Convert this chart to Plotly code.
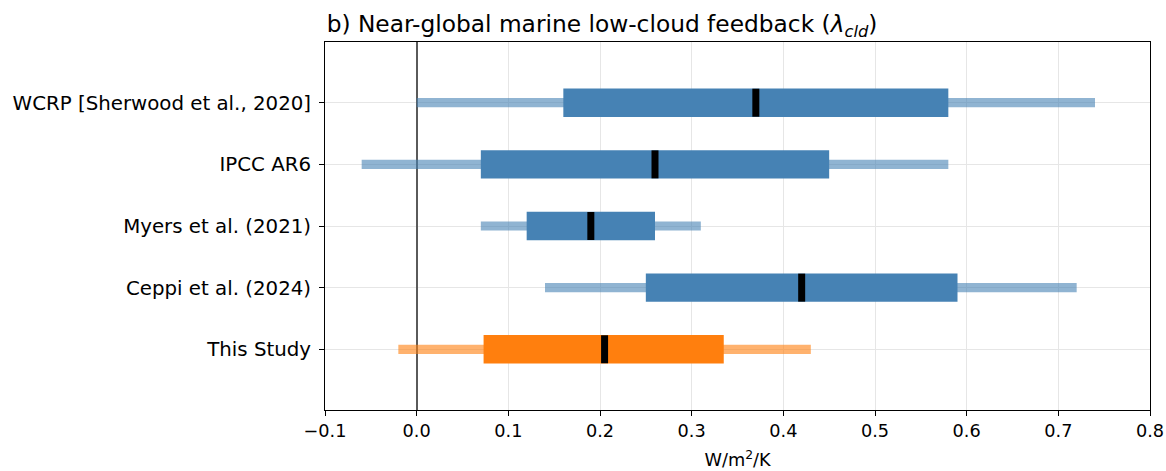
import plotly.graph_objects as go

# Studies, listed bottom to top
studies = ["This Study", "Ceppi et al. (2024)", "Myers et al. (2021)",
           "IPCC AR6", "WCRP [Sherwood et al., 2020]"]

# Feedback estimates (W/m2/K): outer range, inner range, central value
outer_lo = [-0.02, 0.14, 0.07, -0.06, 0.00]
inner_lo = [0.073, 0.25, 0.12, 0.07, 0.16]
central  = [0.205, 0.42, 0.19, 0.26, 0.37]
inner_hi = [0.335, 0.59, 0.26, 0.45, 0.58]
outer_hi = [0.43, 0.72, 0.31, 0.58, 0.74]

box_colors = ["#ff7f0e", "#4682b4", "#4682b4", "#4682b4", "#4682b4"]
range_colors = ["rgba(255,127,14,0.6)", "rgba(70,130,180,0.6)",
                "rgba(70,130,180,0.6)", "rgba(70,130,180,0.6)",
                "rgba(70,130,180,0.6)"]

fig = go.Figure()

# outer (light) range
fig.add_trace(go.Bar(
    y=studies, base=outer_lo,
    x=[h - l for l, h in zip(outer_lo, outer_hi)],
    orientation="h", width=0.15,
    marker=dict(color=range_colors, line=dict(width=0)),
    hoverinfo="skip", showlegend=False,
))

# inner (solid) range
fig.add_trace(go.Bar(
    y=studies, base=inner_lo,
    x=[h - l for l, h in zip(inner_lo, inner_hi)],
    orientation="h", width=0.46,
    marker=dict(color=box_colors, line=dict(width=0)),
    hoverinfo="skip", showlegend=False,
))

# central estimate
fig.add_trace(go.Scatter(
    x=central, y=studies, mode="markers",
    marker=dict(symbol="line-ns", size=20, color="black",
                line=dict(width=7, color="black")),
    hoverinfo="skip", showlegend=False,
))

font_family = "DejaVu Sans"

fig.update_layout(
    width=1166, height=471,
    margin=dict(l=325, r=16, t=42, b=61),
    paper_bgcolor="white", plot_bgcolor="white",
    barmode="overlay",
    font=dict(family=font_family, color="black"),
    title=dict(
        text="b) Near-global marine low-cloud feedback (<i>λ</i><sub><i>cld</i></sub>)",
        font=dict(family=font_family, size=23.3, color="black"),
        xref="paper", x=0.002, xanchor="left",
        yref="container", y=1 - 24 / 471, yanchor="middle",
    ),
)

fig.update_xaxes(
    range=[-0.1, 0.8], dtick=0.1, tickformat=".1f",
    automargin=False,
    showgrid=True, gridcolor="#e6e6e6", gridwidth=1.3,
    zeroline=True, zerolinecolor="#5a5a5a", zerolinewidth=2,
    showline=True, linecolor="black", linewidth=1, mirror=True,
    ticks="outside", ticklen=5, tickwidth=1, tickcolor="black",
    tickfont=dict(family=font_family, size=17.7, color="black"),
    title=dict(text="W/m<sup>2</sup>/K", standoff=13,
               font=dict(family=font_family, size=17.7, color="black")),
)

fig.update_yaxes(
    type="category", categoryorder="array", categoryarray=studies,
    range=[-0.985, 4.985],
    automargin=False,
    showgrid=True, gridcolor="#e6e6e6", gridwidth=1.3,
    showline=True, linecolor="black", linewidth=1, mirror=True,
    ticks="outside", ticklen=5, tickwidth=1, tickcolor="black",
    ticklabelstandoff=4,
    tickfont=dict(family=font_family, size=19.8, color="black"),
)

fig.write_html("out.html")
